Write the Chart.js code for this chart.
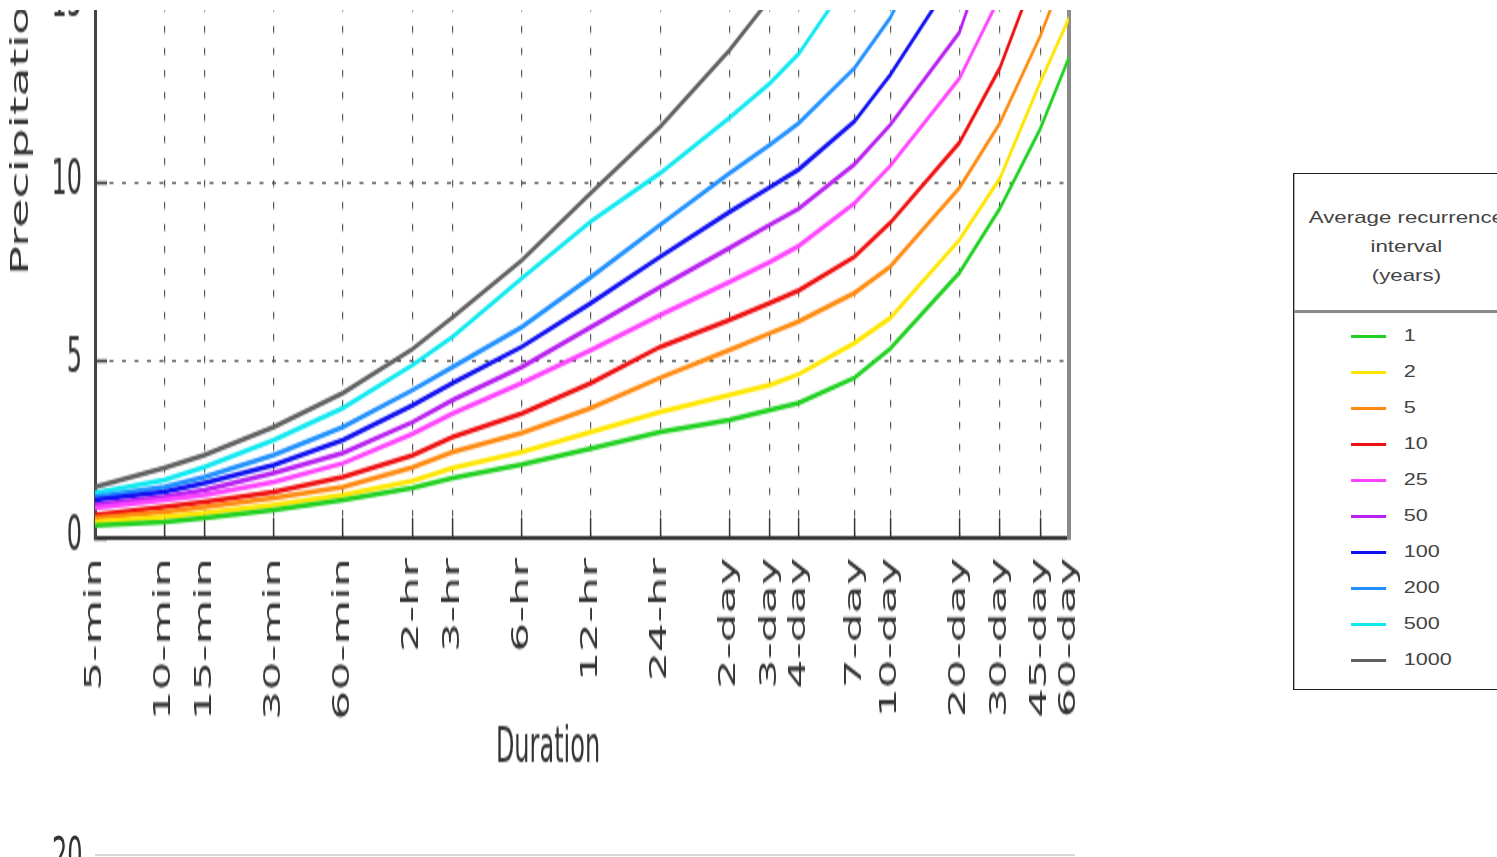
<!DOCTYPE html>
<html lang="en">
<head>
<meta charset="UTF-8">
<title>Precipitation depth by duration</title>
<script src="https://cdn.jsdelivr.net/npm/chart.js"></script>
<style>
    html, body { margin: 0; padding: 0; background: #fff; }
    body {
        width: 1497px;
        height: 857px;
        overflow: hidden;
        position: relative;
        font-family: "DejaVu Sans", sans-serif;
    }
    /* the source picture is stretched about 2x vertically */
    #stretch {
        position: absolute;
        left: 0;
        top: 0;
        width: 1497px;
        height: 429px;
        transform: scaleY(2);
        transform-origin: 0 0;
    }
    #topMask {
        position: absolute;
        left: 0;
        top: 0;
        width: 1200px;
        height: 10px;
        background: #fff;
    }
    #legend {
        position: absolute;
        left: 1293px;
        top: 173px;
        width: 166px;
        height: 515px;
        border: 1px solid #222;
        background: #fff;
        transform: scaleX(1.35);
        transform-origin: 0 0;
        font-family: "Liberation Sans", Arial, sans-serif;
        color: #444;
    }
    #legend .head {
        position: absolute;
        top: 29px;
        left: 0;
        width: 100%;
        text-align: center;
        font-size: 16.5px;
        line-height: 29px;
    }
    #legend .sep {
        position: absolute;
        top: 136px;
        left: 0;
        width: 100%;
        height: 3px;
        background: #8a8a8a;
    }
    #legend .item {
        position: absolute;
        left: 0;
        width: 100%;
        height: 20px;
        margin-top: -10px;
    }
    #legend .swatch {
        position: absolute;
        left: 42px;
        top: 9px;
        width: 26px;
        height: 3px;
    }
    #legend .lab {
        position: absolute;
        left: 81px;
        top: 0;
        font-size: 16px;
        line-height: 20px;
    }
    #nextTick {
        position: absolute;
        left: 52px;
        top: 831px;
        font-size: 24px;
        line-height: 24px;
        color: #333;
        transform: scaleY(2);
        transform-origin: 0 0;
    }
    #nextFrame {
        position: absolute;
        left: 95px;
        top: 854px;
        width: 980px;
        height: 2px;
        background: #d8d8d8;
    }
</style>
</head>
<body>

<div id="stretch">
    <canvas id="chart" width="1497" height="429"></canvas>
</div>
<div id="topMask"></div>

<div id="legend">
    <div class="head">Average recurrence<br>interval<br>(years)</div>
    <div class="sep"></div>
</div>

<span id="nextTick">20</span>
<div id="nextFrame"></div>

<script>
// durations (log axis, in minutes) and their labels
const durationLabels = ['5-min', '10-min', '15-min', '30-min', '60-min', '2-hr', '3-hr', '6-hr', '12-hr', '24-hr',
    '2-day', '3-day', '4-day', '7-day', '10-day', '20-day', '30-day', '45-day', '60-day'];
const durationMinutes = [5, 10, 15, 30, 60, 120, 180, 360, 720, 1440,
    2880, 4320, 5760, 10080, 14400, 28800, 43200, 64800, 86400];

const yTicks = [0, 5, 10, 15];
const intervals = ['1', '2', '5', '10', '25', '50', '100', '200', '500', '1000'];
const intervalColors = ['#20d020', '#ffe600', '#ff8a10', '#ee1010', '#ff44ff', '#b820f0', '#1010f0', '#2090ff', '#10e8f0', '#606060'];

// precipitation depth (in) per average recurrence interval
const ari1    = [0.35, 0.45, 0.56, 0.79, 1.07, 1.40, 1.69, 2.06, 2.52, 2.98, 3.31, 3.60, 3.79, 4.50, 5.32, 7.45, 9.25, 11.5, 13.5];
const ari2    = [0.45, 0.59, 0.70, 0.93, 1.21, 1.60, 1.97, 2.42, 2.98, 3.54, 4.02, 4.30, 4.60, 5.48, 6.18, 8.37, 10.1, 12.8, 14.6];
const ari5    = [0.56, 0.73, 0.87, 1.12, 1.43, 1.98, 2.42, 2.95, 3.65, 4.50, 5.28, 5.75, 6.08, 6.88, 7.62, 9.83, 11.65, 14.1, 16.2];
const ari10   = [0.65, 0.87, 1.01, 1.29, 1.71, 2.32, 2.84, 3.50, 4.35, 5.37, 6.12, 6.60, 6.95, 7.90, 8.85, 11.1, 13.2, 16.2, 18.0];
const ari25   = [0.84, 1.07, 1.21, 1.57, 2.10, 2.92, 3.50, 4.35, 5.28, 6.26, 7.19, 7.75, 8.20, 9.40, 10.45, 12.9, 15.2, 18.0, 20.0];
const ari50   = [0.93, 1.15, 1.35, 1.83, 2.39, 3.25, 3.88, 4.80, 5.93, 7.05, 8.15, 8.80, 9.25, 10.5, 11.6, 14.2, 17.5, 20.0, 22.0];
const ari100  = [1.07, 1.29, 1.54, 2.05, 2.75, 3.72, 4.35, 5.37, 6.60, 7.90, 9.16, 9.85, 10.35, 11.7, 13.0, 16.0, 18.5, 21.0, 23.0];
const ari200  = [1.15, 1.43, 1.71, 2.33, 3.12, 4.15, 4.80, 5.93, 7.33, 8.80, 10.25, 11.05, 11.65, 13.2, 14.6, 18.5, 21.0, 24.0, 26.0];
const ari500  = [1.26, 1.63, 2.00, 2.75, 3.65, 4.85, 5.65, 7.30, 8.90, 10.25, 11.8, 12.77, 13.6, 15.9, 17.5, 21.0, 24.0, 27.0, 29.0];
const ari1000 = [1.43, 1.97, 2.33, 3.12, 4.07, 5.30, 6.20, 7.80, 9.70, 11.55, 13.7, 15.15, 16.3, 18.5, 20.5, 25.0, 28.0, 31.0, 34.0];

const seriesValues = [ari1, ari2, ari5, ari10, ari25, ari50, ari100, ari200, ari500, ari1000];

const xTitle = 'Duration';
const yTitle = 'Precipitation depth (in)';

// axis titles sit off-centre in the original, so draw them here
const axisTitles = {
    id: 'axisTitles',
    afterDraw(chart) {
        const ctx = chart.ctx;
        ctx.save();
        ctx.fillStyle = '#333';
        ctx.font = '24px "DejaVu Sans"';
        ctx.textBaseline = 'middle';
        ctx.textAlign = 'center';
        ctx.fillText(xTitle, 548, 375);
        ctx.translate(22, 137.5);
        ctx.rotate(-Math.PI / 2);
        ctx.textAlign = 'left';
        ctx.fillText(yTitle, 0, 0);
        ctx.restore();
    }
};

Chart.defaults.font.family = '"DejaVu Sans", sans-serif';
Chart.defaults.color = '#333';

const chart = new Chart(document.getElementById('chart'), {
    type: 'line',
    data: {
        labels: durationMinutes,
        datasets: intervals.map((name, i) => ({
            label: name,
            data: seriesValues[i],
            borderColor: intervalColors[i],
            backgroundColor: intervalColors[i],
            borderWidth: 2.5,
            pointRadius: 0,
            tension: 0,
            fill: false
        }))
    },
    options: {
        responsive: false,
        animation: false,
        devicePixelRatio: 1,
        layout: { padding: { left: 0, top: 2, right: 428, bottom: 0 } },
        plugins: {
            legend: { display: false },
            tooltip: { enabled: false }
        },
        scales: {
            x: {
                type: 'logarithmic',
                min: 5,
                max: 86400,
                afterBuildTicks: (scale) => {
                    scale.ticks = durationMinutes.map(v => ({ value: v }));
                },
                afterFit: (scale) => {
                    scale.height = 160;
                    scale.paddingLeft = 0;
                    scale.paddingRight = 0;
                },
                ticks: {
                    autoSkip: false,
                    minRotation: 90,
                    maxRotation: 90,
                    padding: 20,
                    font: { size: 23 },
                    color: '#333',
                    callback: (value, index) => durationLabels[index]
                },
                grid: {
                    color: '#555',
                    lineWidth: 1.2,
                    tickLength: -10,
                    tickColor: '#333',
                    tickWidth: 1.5
                },
                border: { color: '#333', width: 2, dash: [3.5, 7.5] }
            },
            y: {
                min: 0,
                max: 15,
                afterBuildTicks: (scale) => {
                    scale.ticks = yTicks.map(v => ({ value: v }));
                },
                afterFit: (scale) => {
                    scale.width = 95;
                    scale.paddingTop = 0;
                    scale.paddingBottom = 0;
                },
                ticks: {
                    padding: 25,
                    font: { size: 24 },
                    color: '#333'
                },
                grid: {
                    color: '#555',
                    lineWidth: 1,
                    tickLength: -12,
                    tickColor: '#333',
                    tickWidth: 1.5
                },
                border: { color: '#444', width: 3, dash: [4, 8.5] }
            },
            yRight: {
                position: 'right',
                min: 0,
                max: 15,
                ticks: { display: false },
                grid: { display: false },
                border: { display: true, color: '#8a8a8a', width: 4 },
                afterFit: (scale) => {
                    scale.width = 0;
                }
            }
        }
    },
    plugins: [axisTitles]
});

// html legend built from the chart's datasets
const legendBox = document.getElementById('legend');
chart.data.datasets.forEach((ds, i) => {
    const row = document.createElement('div');
    row.className = 'item';
    row.style.top = (162 + i * 36) + 'px';
    row.innerHTML = '<span class="swatch" style="background:' + ds.borderColor + '"></span>' +
        '<span class="lab">' + ds.label + '</span>';
    legendBox.appendChild(row);
});
</script>
</body>
</html>
